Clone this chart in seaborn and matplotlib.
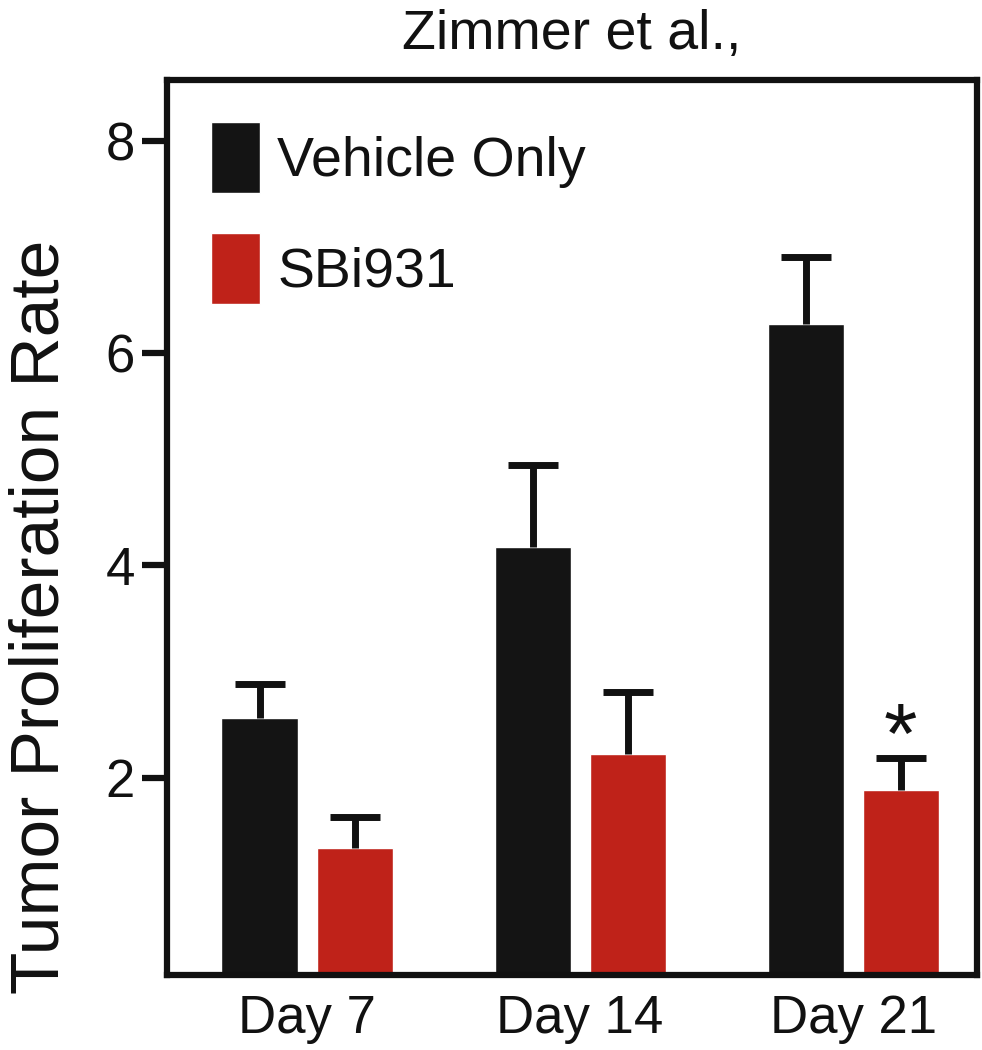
import numpy as np
import pandas as pd
import matplotlib
matplotlib.use("Agg")
import matplotlib.pyplot as plt
import seaborn as sns

# valores
days = ["Day 7", "Day 14", "Day 21"]
groups = ["Vehicle Only", "SBi931"]
vehicle_mean = [2.56, 4.17, 6.27]
vehicle_err = [0.32, 0.78, 0.63]
sbi_mean = [1.34, 2.23, 1.89]
sbi_err = [0.29, 0.58, 0.30]
y_ticks = [2, 4, 6, 8]

df = pd.DataFrame({
    "Day": days + days,
    "Group": [groups[0]] * 3 + [groups[1]] * 3,
    "Rate": vehicle_mean + sbi_mean,
})

sns.set_style("ticks")
plt.rcParams["font.family"] = ["Liberation Sans", "DejaVu Sans"]
ink = "#111111"
plt.rcParams["text.color"] = ink
plt.rcParams["axes.labelcolor"] = ink
plt.rcParams["xtick.color"] = ink
plt.rcParams["ytick.color"] = ink

fig = plt.figure(figsize=(9.82, 10.5), dpi=100)
ax = fig.add_axes([0.170, 0.0714, 0.825, 0.8524])

sns.barplot(data=df, x="Day", y="Rate", hue="Group",
            palette=["#141414", "#bf2219"], saturation=1,
            width=0.696, gap=0.2, errorbar=None, ax=ax)

# barras de error solo hacia arriba
for cont, errs in zip(ax.containers, [vehicle_err, sbi_err]):
    xs = [b.get_x() + b.get_width() / 2 for b in cont]
    hs = [b.get_height() for b in cont]
    _, caps, _ = ax.errorbar(xs, hs, yerr=[np.zeros(len(errs)), errs], fmt="none",
                             ecolor=ink, elinewidth=5, capsize=18, capthick=5, zorder=3)
    caps[0].set_visible(False)

# asterisco sobre SBi931 dia 21
red = ax.containers[1][2]
ax.annotate("*", xy=(red.get_x() + red.get_width() / 2, sbi_mean[2] + sbi_err[2]),
            xytext=(0, -4), textcoords="offset points", ha="center", va="baseline",
            fontsize=62, color=ink)

ax.set_ylim(0.145, 8.57)
ax.set_xlim(-0.513, 2.454)
ax.set_yticks(y_ticks)
ax.set_yticklabels([str(t) for t in y_ticks])
ax.tick_params(axis="y", length=18, width=4.5, pad=5, labelsize=38)
ax.tick_params(axis="x", length=0, pad=14, labelsize=38)
for s in ax.spines.values():
    s.set_visible(True)
    s.set_linewidth(4.5)
    s.set_color(ink)

ax.set_xlabel("")
ax.set_ylabel("Tumor Proliferation Rate", fontsize=50)
ax.yaxis.set_label_coords(-0.116, 0.40)
ax.set_title("Zimmer et al.,", fontsize=40, pad=22)

sns.move_legend(ax, "upper left", bbox_to_anchor=(0.054, 0.953), title=None,
                frameon=False, fontsize=40, handlelength=0.88, handleheight=1.58,
                labelspacing=0.73, handletextpad=0.32, borderpad=0, borderaxespad=0)

fig.savefig("out.png", dpi=100)
